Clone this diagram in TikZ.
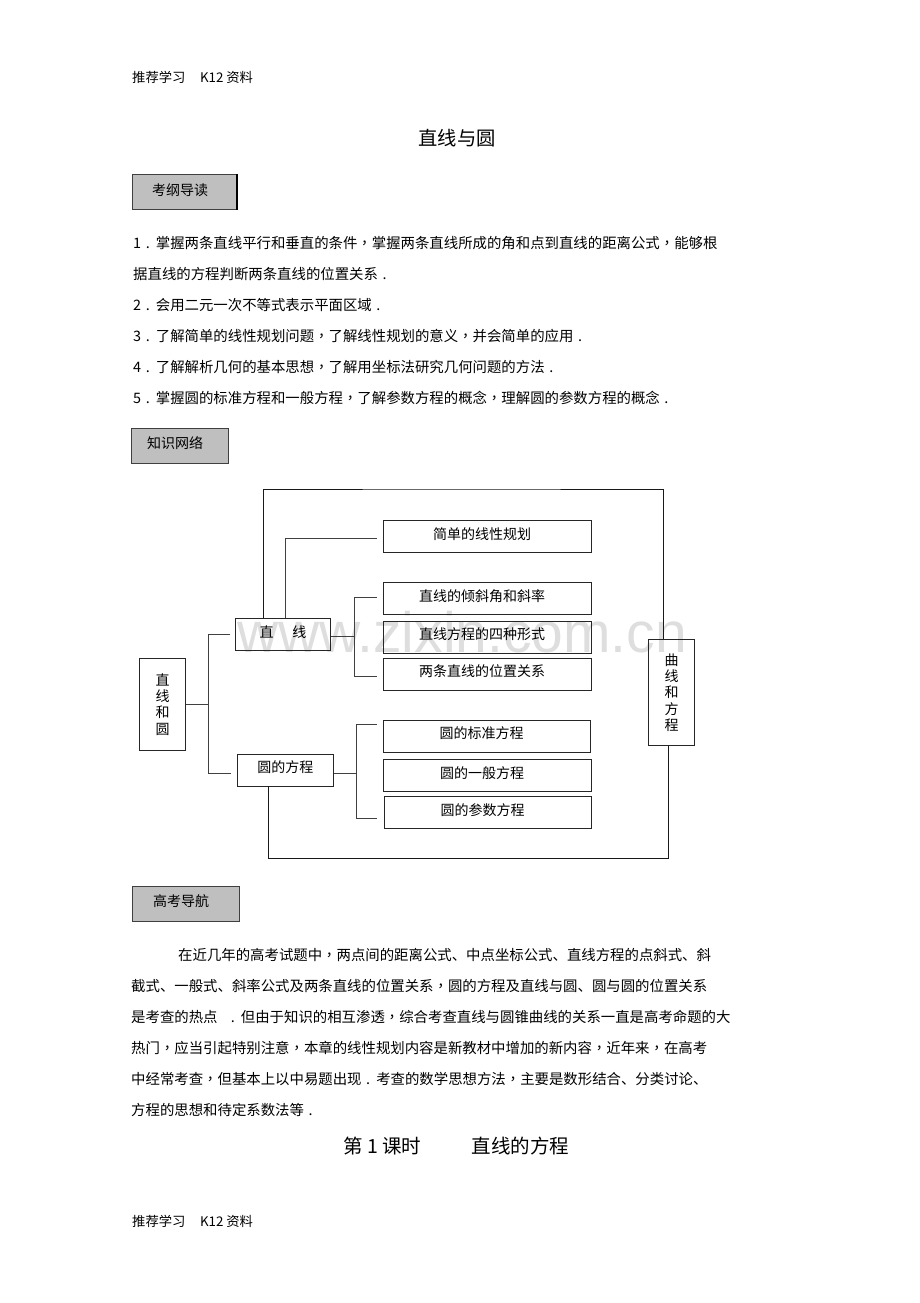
\documentclass[tikz,border=0pt]{standalone}
\usepackage{fontspec}
\setmainfont{Noto Sans CJK SC}
\newfontfamily\tcfont{Noto Sans CJK TC}
\newfontfamily\wmfont{Liberation Sans}
\usetikzlibrary{positioning}
\newcommand\dou{{\tcfont ，}}
\newcommand\ju{{\hspace{0.32em}.\hspace{0.42em}}}
\tikzstyle{link} = [draw=black!75, line width=0.9pt]
\tikzstyle{loop} = [draw=black!90, line width=1pt]
\tikzstyle{sec} = [draw=black!75, fill=black!25, line width=0.8pt, minimum height=35pt, inner sep=0pt, text height=10pt, text depth=4pt, font=\fontsize{14}{16}\selectfont, execute at end node={\hspace{9pt}}]
\tikzstyle{topic} = [draw=black!85, line width=0.9pt, minimum width=208pt, minimum height=32pt, inner sep=0pt, text height=10pt, text depth=5pt, font=\fontsize{14}{16}\selectfont, execute at end node={\hspace{11pt}}]
\tikzstyle{mid} = [draw=black!85, line width=0.9pt, minimum height=32pt, inner sep=0pt, text height=10pt, text depth=5pt, font=\fontsize{14}{16}\selectfont]
\tikzstyle{col} = [draw=black!85, line width=0.9pt, inner sep=0pt, align=center, font=\fontsize{14}{16.3}\selectfont]
\tikzstyle{txt} = [anchor=west, inner sep=0pt, font=\fontsize{14.4}{17}\selectfont]

\begin{document}
\begin{tikzpicture}[x=1pt,y=-1pt]
\useasboundingbox (0,0) rectangle (920,1303);
\node[anchor=base west, inner sep=0pt, text=black!13, font=\wmfont\fontsize{57}{57}\selectfont] (wm) at (237,652) {www.zixin.com.cn};

\node[txt, font=\fontsize{13.3}{16}\selectfont] (hd) at (132,77) {推荐学习\hspace{1.1em}K12 资料};
\node[inner sep=0pt, font=\fontsize{19.3}{22}\selectfont] (tt) at (457,138) {直线与圆};
\node[sec, minimum width=104pt] (kg) at (184.5,192) {考纲导读};
\draw[line width=1.8pt] (kg.north east) -- (kg.south east);

\node[txt] (l1) at (133,243) {1\ju 掌握两条直线平行和垂直的条件\dou 掌握两条直线所成的角和点到直线的距离公式\dou 能够根};
\node[txt] (l1b) at (133,274) {据直线的方程判断两条直线的位置关系\ju};
\node[txt] (l2) at (133,305) {2\ju 会用二元一次不等式表示平面区域\ju};
\node[txt] (l3) at (133,336) {3\ju 了解简单的线性规划问题\dou 了解线性规划的意义\dou 并会简单的应用\ju};
\node[txt] (l4) at (133,367) {4\ju 了解解析几何的基本思想\dou 了解用坐标法研究几何问题的方法\ju};
\node[txt] (l5) at (133,398) {5\ju 掌握圆的标准方程和一般方程\dou 了解参数方程的概念\dou 理解圆的参数方程的概念\ju};

\node[sec, minimum width=97pt] (zs) at (179.5,445.5) {知识网络};

\node[col, minimum width=46.4pt, minimum height=92pt] (zxy) at (162.5,704.3) {直\\线\\和\\圆};
\node[mid, minimum width=94.3pt] (zx) at (282.9,634.9) {直\hspace{1.34em}线};
\node[mid, minimum width=96pt, minimum height=31.3pt] (yfc) at (285.3,770.3) {圆的方程\hspace{7pt}};
\node[col, minimum width=45.6pt, minimum height=106.4pt] (qxfc) at (671.5,692.5) {曲\\线\\和\\方\\程};
\node[topic] (gh) at (487.5,536.5) {简单的线性规划};
\node[topic] (qxj) at (487.5,598.9) {直线的倾斜角和斜率};
\node[topic] (sz) at (487.5,637.3) {直线方程的四种形式};
\node[topic] (gx) at (487.5,674.2) {两条直线的位置关系};
\node[topic, minimum width=207.4pt] (bz) at (487,736.2) {圆的标准方程};
\node[topic] (yb) at (487.5,775.5) {圆的一般方程};
\node[topic, minimum width=207.4pt] (cs) at (488,812.7) {圆的参数方程};

\draw[link] (zxy.east) -- ++(22,0) coordinate (lj);
\draw[link] ([xshift=-5pt]zx.west) -| (lj) |- ([xshift=-6pt,yshift=-2.7pt]yfc.west);
\draw[link] ([yshift=-1.8pt]zx.east) -- ++(24,0) coordinate (rj1);
\draw[link] ([xshift=-6pt,yshift=1.9pt]qxj.west) -| (rj1) |- ([xshift=-6pt,yshift=-2.5pt]gx.west);
\draw[link] ([yshift=-2.7pt]yfc.east) -- ++(23,0) coordinate (rj2);
\draw[link] ([xshift=-6pt,yshift=12.2pt]bz.west) -| (rj2) |- ([xshift=-7pt,yshift=-5.6pt]cs.west);
\draw[link] ([xshift=3pt]zx.north) |- ([xshift=-6pt,yshift=-1.5pt]gh.west);
\coordinate (ltop) at (460,489);
\draw[loop] ([xshift=-19pt]zx.north) |- (ltop) -| ([xshift=-8.5pt]qxfc.north);
\coordinate (lbot) at (460,858);
\draw[loop] ([xshift=-17pt]yfc.south) |- (lbot) -| ([xshift=-3.5pt]qxfc.south);

\node[sec, minimum width=107pt] (gk) at (185.5,903.5) {高考导航};

\node[txt] (p1) at (178,955) {在近几年的高考试题中\dou 两点间的距离公式、中点坐标公式、直线方程的点斜式、斜};
\node[txt] (p2) at (131,986) {截式、一般式、斜率公式及两条直线的位置关系\dou 圆的方程及直线与圆、圆与圆的位置关系};
\node[txt] (p3) at (131,1017) {是考查的热点\hspace{0.6em}\ju 但由于知识的相互渗透\dou 综合考查直线与圆锥曲线的关系一直是高考命题的大};
\node[txt] (p4) at (131,1048) {热门\dou 应当引起特别注意\dou 本章的线性规划内容是新教材中增加的新内容\dou 近年来\dou 在高考};
\node[txt] (p5) at (131,1079) {中经常考查\dou 但基本上以中易题出现\ju 考查的数学思想方法\dou 主要是数形结合、分类讨论、};
\node[txt] (p6) at (131,1110) {方程的思想和待定系数法等\ju};

\node[txt, font=\fontsize{19.5}{22}\selectfont] (ks) at (343,1146.5) {第 1 课时\hspace{2.6em}直线的方程};
\node[txt, font=\fontsize{13.3}{16}\selectfont] (ft) at (132,1221) {推荐学习\hspace{1.1em}K12 资料};
\end{tikzpicture}
\end{document}
